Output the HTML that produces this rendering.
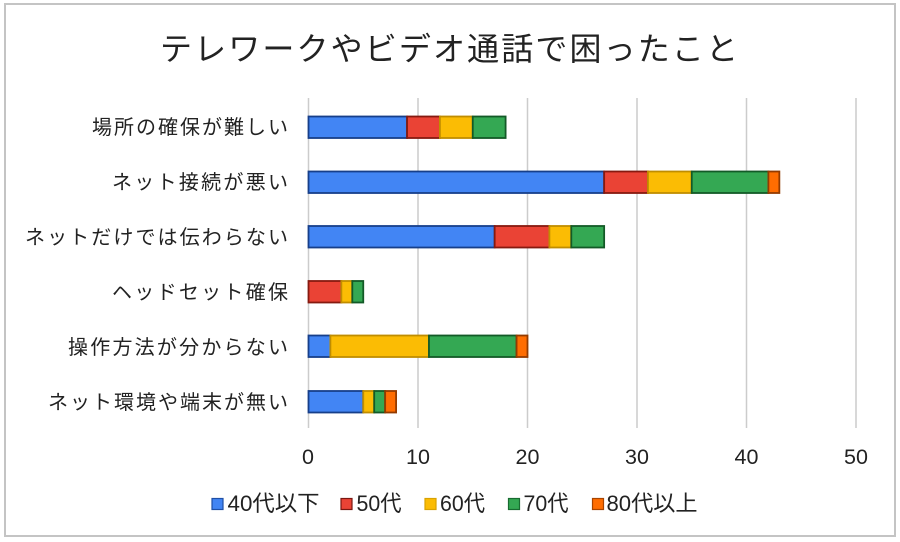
<!DOCTYPE html>
<html>
<head>
<meta charset="utf-8">
<style>
  html, body { margin:0; padding:0; background:#fff; }
  svg { display:block; }
  .jp { font-family: "Liberation Sans", "Noto Sans CJK JP", sans-serif; fill:#222; }
  .num { font-family: "Liberation Sans", sans-serif; fill:#222; }
</style>
</head>
<body>
<svg width="900" height="542" viewBox="0 0 900 542" xmlns="http://www.w3.org/2000/svg">
  <rect x="0" y="0" width="900" height="542" fill="#fff"/>
  <rect x="5" y="4" width="890" height="532" fill="#fff" stroke="#c4c4c4" stroke-width="2"/>

  <!-- title -->
  <text class="jp" x="160" y="60" font-size="32" textLength="578" lengthAdjust="spacing">テレワークやビデオ通話で困ったこと</text>

  <!-- gridlines -->
  <g stroke="#cccccc" stroke-width="1.5">
    <line x1="308.5" y1="98" x2="308.5" y2="428"/>
    <line x1="418" y1="98" x2="418" y2="428"/>
    <line x1="527.5" y1="98" x2="527.5" y2="428"/>
    <line x1="637" y1="98" x2="637" y2="428"/>
    <line x1="746.5" y1="98" x2="746.5" y2="428"/>
    <line x1="856" y1="98" x2="856" y2="428"/>
  </g>

  <!-- bars: x = 308.5 + v*10.95 -->
  <g stroke-width="1.8">
    <!-- 1: 9,3,3,3,0 -->
    <rect x="308.5" y="116.5" width="98.55" height="21.5" fill="#4285f4" stroke="#173f8a"/>
    <rect x="407.05" y="116.5" width="32.85" height="21.5" fill="#ea4335" stroke="#861a10"/>
    <rect x="439.9" y="116.5" width="32.85" height="21.5" fill="#fbbc04" stroke="#c08d00"/>
    <rect x="472.75" y="116.5" width="32.85" height="21.5" fill="#34a853" stroke="#135a27"/>
    <!-- 2: 27,4,4,7,1 -->
    <rect x="308.5" y="171.5" width="295.65" height="21.5" fill="#4285f4" stroke="#173f8a"/>
    <rect x="604.15" y="171.5" width="43.8" height="21.5" fill="#ea4335" stroke="#861a10"/>
    <rect x="647.95" y="171.5" width="43.8" height="21.5" fill="#fbbc04" stroke="#c08d00"/>
    <rect x="691.75" y="171.5" width="76.65" height="21.5" fill="#34a853" stroke="#135a27"/>
    <rect x="768.4" y="171.5" width="10.95" height="21.5" fill="#ff6d01" stroke="#933b00"/>
    <!-- 3: 17,5,2,3,0 -->
    <rect x="308.5" y="226" width="186.15" height="21.5" fill="#4285f4" stroke="#173f8a"/>
    <rect x="494.65" y="226" width="54.75" height="21.5" fill="#ea4335" stroke="#861a10"/>
    <rect x="549.4" y="226" width="21.9" height="21.5" fill="#fbbc04" stroke="#c08d00"/>
    <rect x="571.3" y="226" width="32.85" height="21.5" fill="#34a853" stroke="#135a27"/>
    <!-- 4: 0,3,1,1,0 -->
    <rect x="308.5" y="281" width="32.85" height="21.5" fill="#ea4335" stroke="#861a10"/>
    <rect x="341.35" y="281" width="10.95" height="21.5" fill="#fbbc04" stroke="#c08d00"/>
    <rect x="352.3" y="281" width="10.95" height="21.5" fill="#34a853" stroke="#135a27"/>
    <!-- 5: 2,0,9,8,1 -->
    <rect x="308.5" y="335.5" width="21.9" height="21.5" fill="#4285f4" stroke="#173f8a"/>
    <rect x="330.4" y="335.5" width="98.55" height="21.5" fill="#fbbc04" stroke="#c08d00"/>
    <rect x="428.95" y="335.5" width="87.6" height="21.5" fill="#34a853" stroke="#135a27"/>
    <rect x="516.55" y="335.5" width="10.95" height="21.5" fill="#ff6d01" stroke="#933b00"/>
    <!-- 6: 5,0,1,1,1 -->
    <rect x="308.5" y="391" width="54.75" height="21.5" fill="#4285f4" stroke="#173f8a"/>
    <rect x="363.25" y="391" width="10.95" height="21.5" fill="#fbbc04" stroke="#c08d00"/>
    <rect x="374.2" y="391" width="10.95" height="21.5" fill="#34a853" stroke="#135a27"/>
    <rect x="385.15" y="391" width="10.95" height="21.5" fill="#ff6d01" stroke="#933b00"/>
  </g>

  <!-- category labels -->
  <g class="jp" font-size="20">
    <text x="92" y="134" textLength="196" lengthAdjust="spacing">場所の確保が難しい</text>
    <text x="112" y="189" textLength="176" lengthAdjust="spacing">ネット接続が悪い</text>
    <text x="25" y="244" textLength="263" lengthAdjust="spacing">ネットだけでは伝わらない</text>
    <text x="112" y="299" textLength="176" lengthAdjust="spacing">ヘッドセット確保</text>
    <text x="68" y="354" textLength="220" lengthAdjust="spacing">操作方法が分からない</text>
    <text x="48" y="409" textLength="240" lengthAdjust="spacing">ネット環境や端末が無い</text>
  </g>

  <!-- x tick labels -->
  <g class="num" font-size="21.5" text-anchor="middle">
    <text x="308" y="464">0</text>
    <text x="418" y="464">10</text>
    <text x="527.5" y="464">20</text>
    <text x="637" y="464">30</text>
    <text x="746.5" y="464">40</text>
    <text x="856" y="464">50</text>
  </g>

  <!-- legend -->
  <g stroke-width="1.2">
    <rect x="212" y="498.5" width="11" height="11" fill="#4285f4" stroke="#1f4fa6"/>
    <rect x="341" y="498.5" width="11" height="11" fill="#ea4335" stroke="#7a1710"/>
    <rect x="425" y="498.5" width="11" height="11" fill="#fbbc04" stroke="#d9a200"/>
    <rect x="508.5" y="498.5" width="11" height="11" fill="#34a853" stroke="#186b30"/>
    <rect x="592.5" y="498.5" width="11" height="11" fill="#ff6d01" stroke="#a84400"/>
  </g>
  <g class="jp" font-size="22">
    <text x="227.5" y="511" textLength="92" lengthAdjust="spacingAndGlyphs">40代以下</text>
    <text x="356.5" y="511" textLength="45" lengthAdjust="spacingAndGlyphs">50代</text>
    <text x="440" y="511" textLength="45" lengthAdjust="spacingAndGlyphs">60代</text>
    <text x="523.5" y="511" textLength="45" lengthAdjust="spacingAndGlyphs">70代</text>
    <text x="606.5" y="511" textLength="91" lengthAdjust="spacingAndGlyphs">80代以上</text>
  </g>
</svg>
</body>
</html>
